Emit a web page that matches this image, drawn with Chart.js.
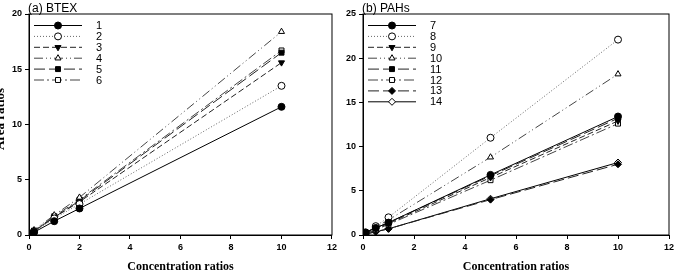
<!DOCTYPE html>
<html>
<head>
<meta charset="utf-8">
<script src="https://cdn.jsdelivr.net/npm/chart.js@4.4.1/dist/chart.umd.min.js"></script>
<style>
  html, body { margin: 0; padding: 0; background: #fff; }
  .panel { position: absolute; top: 0; width: 340px; height: 278px; }
  #wrapA { left: 0; }
  #wrapB { left: 340px; }
</style>
</head>
<body>
<div class="panel" id="wrapA"><canvas id="btexChart" width="340" height="278"></canvas></div>
<div class="panel" id="wrapB"><canvas id="pahChart" width="340" height="278"></canvas></div>
<script>
// ---- data ----
const btexX = [0.05, 0.2, 1, 2, 10];
const btexLabels = ['1', '2', '3', '4', '5', '6'];
const btex1 = [0.1, 0.25, 1.25, 2.4, 11.6];
const btex2 = [0.1, 0.3, 1.5, 2.8, 13.5];
const btex3 = [0.1, 0.35, 1.6, 3.0, 15.6];
const btex4 = [0.15, 0.45, 1.8, 3.4, 18.4];
const btex5 = [0.1, 0.35, 1.6, 3.1, 16.5];
const btex6 = [0.15, 0.4, 1.7, 3.2, 16.7];

const pahX = [0.1, 0.5, 1, 5, 10];
const pahLabels = ['7', '8', '9', '10', '11', '12', '13', '14'];
const pah7 = [0.3, 0.8, 1.4, 6.8, 13.4];
const pah8 = [0.2, 1.0, 2.0, 11.0, 22.1];
const pah9 = [0.2, 0.7, 1.3, 6.5, 12.9];
const pah10 = [0.2, 0.9, 1.7, 8.8, 18.2];
const pah11 = [0.3, 0.8, 1.4, 6.7, 13.2];
const pah12 = [0.1, 0.6, 1.2, 6.2, 12.6];
const pah13 = [0.1, 0.4, 0.7, 4.0, 8.0];
const pah14 = [0.1, 0.35, 0.7, 4.1, 8.2];

// ---- line / marker styles ----
const STY = {
  solidFilledCircle: { dash: [], color: '#000', pointStyle: 'circle', fill: '#000', rot: 0 },
  dotOpenCircle:     { dash: [1, 2], color: '#666', pointStyle: 'circle', fill: '#fff', rot: 0 },
  dashFilledTriDown: { dash: [6, 3], color: '#222', pointStyle: 'triangle', fill: '#000', rot: 180 },
  ddotOpenTri:       { dash: [9, 3, 1, 3, 1, 3], color: '#444', pointStyle: 'triangle', fill: '#fff', rot: 0 },
  longDashFilledSq:  { dash: [11, 4], color: '#222', pointStyle: 'rect', fill: '#000', rot: 0 },
  dashDotOpenSq:     { dash: [10, 3, 2, 3], color: '#444', pointStyle: 'rect', fill: '#fff', rot: 0 },
  longDashFilledDia: { dash: [11, 4], color: '#222', pointStyle: 'rectRot', fill: '#000', rot: 0 },
  solidOpenDia:      { dash: [], color: '#000', pointStyle: 'rectRot', fill: '#fff', rot: 0 }
};

function makeSet(label, xs, ys, s) {
  return {
    label,
    data: xs.map((x, i) => ({ x, y: ys[i] })),
    borderColor: s.color,
    borderWidth: 1,
    borderDash: s.dash,
    pointStyle: s.pointStyle,
    pointRotation: s.rot,
    pointRadius: 3.5,
    pointBorderWidth: 1,
    pointBorderColor: '#000',
    pointBackgroundColor: s.fill,
    tension: 0,
    _sty: s
  };
}

// frame, titles and inside legend
const decoPlugin = {
  id: 'deco',
  afterDraw(chart, args, opts) {
    const { ctx, chartArea: a } = chart;
    ctx.save();
    ctx.strokeStyle = '#000';
    ctx.lineWidth = 1;
    ctx.setLineDash([]);
    ctx.strokeRect(a.left, a.top, a.right - a.left, a.bottom - a.top);

    ctx.fillStyle = '#000';
    ctx.font = '12px "Liberation Sans", Arial, sans-serif';
    ctx.textAlign = 'left';
    ctx.textBaseline = 'alphabetic';
    ctx.fillText(opts.title, a.left - 1, 12);

    ctx.font = 'bold 12px "Liberation Serif", "Times New Roman", serif';
    ctx.textAlign = 'center';
    ctx.textBaseline = 'middle';
    ctx.fillText('Concentration ratios', (a.left + a.right) / 2, 267);

    if (opts.yTitle) {
      ctx.save();
      ctx.font = 'bold 13px "Liberation Serif", "Times New Roman", serif';
      ctx.translate(1, 119);
      ctx.rotate(-Math.PI / 2);
      ctx.fillText('Area ratios', 0, 0);
      ctx.restore();
    }

    // legend
    chart.data.datasets.forEach((ds, i) => {
      const s = ds._sty;
      const y = a.top + 11.5 + i * 10.9;
      const x0 = a.left + 5, x1 = a.left + 53;
      ctx.strokeStyle = s.color;
      ctx.setLineDash(s.dash);
      ctx.beginPath();
      ctx.moveTo(x0, y);
      ctx.lineTo(x1, y);
      ctx.stroke();
      ctx.setLineDash([]);
      ctx.strokeStyle = '#000';
      ctx.fillStyle = s.fill;
      Chart.helpers.drawPoint(ctx, { pointStyle: s.pointStyle, rotation: s.rot, radius: 3.5, borderWidth: 1 }, (x0 + x1) / 2, y);
      ctx.fillStyle = '#000';
      ctx.font = '11px "Liberation Sans", Arial, sans-serif';
      ctx.textAlign = 'left';
      ctx.textBaseline = 'middle';
      ctx.fillText(ds.label, a.left + 67, y + 0.5);
    });
    ctx.restore();
  }
};

function axisOpts(yMax, yWidth) {
  const tickFont = { family: '"Liberation Sans", Arial, sans-serif', size: 9, weight: 'bold' };
  return {
    x: {
      type: 'linear', min: 0, max: 12,
      ticks: { stepSize: 2, color: '#000', font: tickFont, padding: 3, maxRotation: 0 },
      grid: { drawOnChartArea: false, drawTicks: true, tickLength: 4, color: '#000' },
      border: { display: true, color: '#000' },
      afterFit: s => { s.height = 43; }
    },
    y: {
      type: 'linear', min: 0, max: yMax,
      ticks: { stepSize: 5, color: '#000', font: tickFont, padding: 3 },
      grid: { drawOnChartArea: false, drawTicks: true, tickLength: 4, color: '#000' },
      border: { display: true, color: '#000' },
      afterFit: s => { s.width = yWidth; }
    }
  };
}

function baseOptions(yMax, yWidth, rightPad, title, yTitle) {
  return {
    responsive: false,
    animation: false,
    layout: { padding: { top: 14, right: rightPad, left: 0, bottom: 0 } },
    plugins: {
      legend: { display: false },
      tooltip: { enabled: false },
      deco: { title, yTitle }
    },
    scales: axisOpts(yMax, yWidth)
  };
}

new Chart(document.getElementById('btexChart'), {
  type: 'line',
  data: {
    datasets: [
      makeSet(btexLabels[0], btexX, btex1, STY.solidFilledCircle),
      makeSet(btexLabels[1], btexX, btex2, STY.dotOpenCircle),
      makeSet(btexLabels[2], btexX, btex3, STY.dashFilledTriDown),
      makeSet(btexLabels[3], btexX, btex4, STY.ddotOpenTri),
      makeSet(btexLabels[4], btexX, btex5, STY.longDashFilledSq),
      makeSet(btexLabels[5], btexX, btex6, STY.dashDotOpenSq)
    ]
  },
  options: baseOptions(20, 29, 5, '(a) BTEX', true),
  plugins: [decoPlugin]
});

new Chart(document.getElementById('pahChart'), {
  type: 'line',
  data: {
    datasets: [
      makeSet(pahLabels[0], pahX, pah7, STY.solidFilledCircle),
      makeSet(pahLabels[1], pahX, pah8, STY.dotOpenCircle),
      makeSet(pahLabels[2], pahX, pah9, STY.dashFilledTriDown),
      makeSet(pahLabels[3], pahX, pah10, STY.ddotOpenTri),
      makeSet(pahLabels[4], pahX, pah11, STY.longDashFilledSq),
      makeSet(pahLabels[5], pahX, pah12, STY.dashDotOpenSq),
      makeSet(pahLabels[6], pahX, pah13, STY.longDashFilledDia),
      makeSet(pahLabels[7], pahX, pah14, STY.solidOpenDia)
    ]
  },
  options: baseOptions(25, 23, 11, '(b) PAHs', false),
  plugins: [decoPlugin]
});
</script>
</body>
</html>
